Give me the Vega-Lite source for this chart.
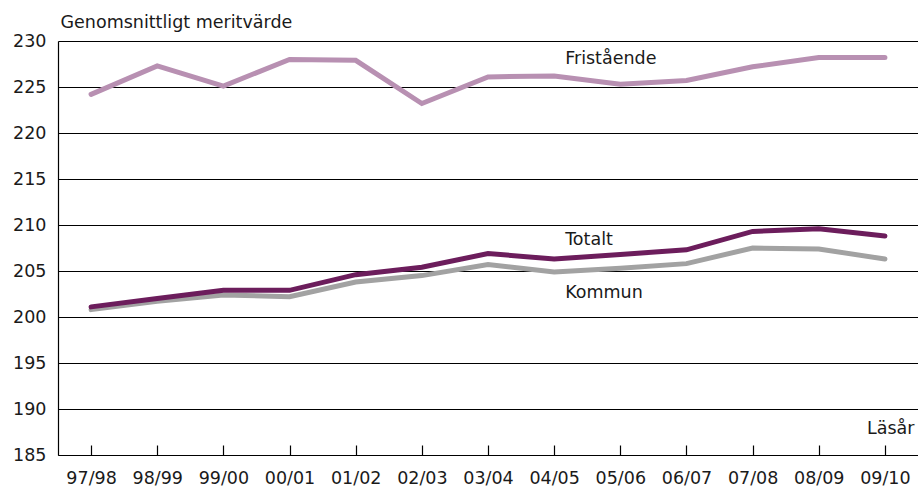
{
  "$schema": "https://vega.github.io/schema/vega-lite/v6.json",
  "width": 860,
  "height": 414,
  "autosize": {"type": "none"},
  "padding": {"left": 58, "top": 41, "right": 0, "bottom": 33},
  "background": "white",
  "config": {
    "view": {"stroke": null},
    "font": "DejaVu Sans",
    "axis": {"labelFont": "DejaVu Sans", "titleFont": "DejaVu Sans", "labelColor": "#1a1a1a", "titleColor": "#1a1a1a"}
  },
  "datasets": {
    "series": [
      {"year": "97/98", "series": "Fristående", "value": 224.2},
      {"year": "98/99", "series": "Fristående", "value": 227.3},
      {"year": "99/00", "series": "Fristående", "value": 225.1},
      {"year": "00/01", "series": "Fristående", "value": 228.0},
      {"year": "01/02", "series": "Fristående", "value": 227.9},
      {"year": "02/03", "series": "Fristående", "value": 223.2},
      {"year": "03/04", "series": "Fristående", "value": 226.1},
      {"year": "04/05", "series": "Fristående", "value": 226.2},
      {"year": "05/06", "series": "Fristående", "value": 225.3},
      {"year": "06/07", "series": "Fristående", "value": 225.7},
      {"year": "07/08", "series": "Fristående", "value": 227.2},
      {"year": "08/09", "series": "Fristående", "value": 228.2},
      {"year": "09/10", "series": "Fristående", "value": 228.2},
      {"year": "97/98", "series": "Kommun", "value": 200.8},
      {"year": "98/99", "series": "Kommun", "value": 201.7},
      {"year": "99/00", "series": "Kommun", "value": 202.4},
      {"year": "00/01", "series": "Kommun", "value": 202.2},
      {"year": "01/02", "series": "Kommun", "value": 203.8},
      {"year": "02/03", "series": "Kommun", "value": 204.5},
      {"year": "03/04", "series": "Kommun", "value": 205.7},
      {"year": "04/05", "series": "Kommun", "value": 204.9},
      {"year": "05/06", "series": "Kommun", "value": 205.3},
      {"year": "06/07", "series": "Kommun", "value": 205.8},
      {"year": "07/08", "series": "Kommun", "value": 207.5},
      {"year": "08/09", "series": "Kommun", "value": 207.4},
      {"year": "09/10", "series": "Kommun", "value": 206.3},
      {"year": "97/98", "series": "Totalt", "value": 201.1},
      {"year": "98/99", "series": "Totalt", "value": 202.0},
      {"year": "99/00", "series": "Totalt", "value": 202.9},
      {"year": "00/01", "series": "Totalt", "value": 202.9},
      {"year": "01/02", "series": "Totalt", "value": 204.6},
      {"year": "02/03", "series": "Totalt", "value": 205.4},
      {"year": "03/04", "series": "Totalt", "value": 206.9},
      {"year": "04/05", "series": "Totalt", "value": 206.3},
      {"year": "05/06", "series": "Totalt", "value": 206.8},
      {"year": "06/07", "series": "Totalt", "value": 207.3},
      {"year": "07/08", "series": "Totalt", "value": 209.3},
      {"year": "08/09", "series": "Totalt", "value": 209.6},
      {"year": "09/10", "series": "Totalt", "value": 208.8}
    ],
    "labels": [
      {"year": "04/05", "label": "Fristående", "value": 227.55},
      {"year": "04/05", "label": "Totalt", "value": 207.86},
      {"year": "04/05", "label": "Kommun", "value": 202.1}
    ]
  },
  "encoding": {
    "x": {
      "field": "year",
      "type": "ordinal",
      "sort": null,
      "scale": {"type": "point", "padding": 0.5},
      "axis": {
        "title": "Läsår",
        "titleAnchor": "end",
        "titleAlign": "right",
        "titleX": 856,
        "titleY": -22,
        "titleBaseline": "alphabetic",
        "titleFontSize": 17.5,
        "titleFontWeight": "normal",
        "labelAngle": 0,
        "labelFontSize": 17.5,
        "labelPadding": 24,
        "labelBaseline": "top",
        "domainColor": "black",
        "domainWidth": 1.2,
        "tickColor": "black",
        "tickWidth": 1.2,
        "tickSize": -10,
        "grid": false
      }
    },
    "y": {
      "field": "value",
      "type": "quantitative",
      "scale": {"domain": [185, 230], "nice": false, "zero": false},
      "axis": {
        "values": [185, 190, 195, 200, 205, 210, 215, 220, 225, 230],
        "title": "Genomsnittligt meritvärde",
        "titleAngle": 0,
        "titleAlign": "left",
        "titleAnchor": "start",
        "titleX": 2,
        "titleY": -14,
        "titleBaseline": "alphabetic",
        "titleFontSize": 17.5,
        "titleFontWeight": "normal",
        "labelFontSize": 17.5,
        "labelPadding": 12,
        "ticks": false,
        "grid": true,
        "gridColor": "black",
        "gridWidth": 1.2,
        "gridOpacity": 1,
        "domainColor": "black",
        "domainWidth": 1.2
      }
    }
  },
  "layer": [
    {
      "data": {"name": "series"},
      "transform": [{"filter": "datum.series === 'Fristående'"}],
      "mark": {"type": "line", "color": "#b890b2", "strokeWidth": 5, "strokeCap": "round"}
    },
    {
      "data": {"name": "series"},
      "transform": [{"filter": "datum.series === 'Kommun'"}],
      "mark": {"type": "line", "color": "#a2a2a2", "strokeWidth": 5, "strokeCap": "round"}
    },
    {
      "data": {"name": "series"},
      "transform": [{"filter": "datum.series === 'Totalt'"}],
      "mark": {"type": "line", "color": "#6c1d5c", "strokeWidth": 5, "strokeCap": "round"}
    },
    {
      "data": {"name": "labels"},
      "mark": {"type": "text", "align": "left", "baseline": "alphabetic", "dx": 11, "fontSize": 17.5, "color": "#1a1a1a"},
      "encoding": {"text": {"field": "label"}}
    }
  ]
}
